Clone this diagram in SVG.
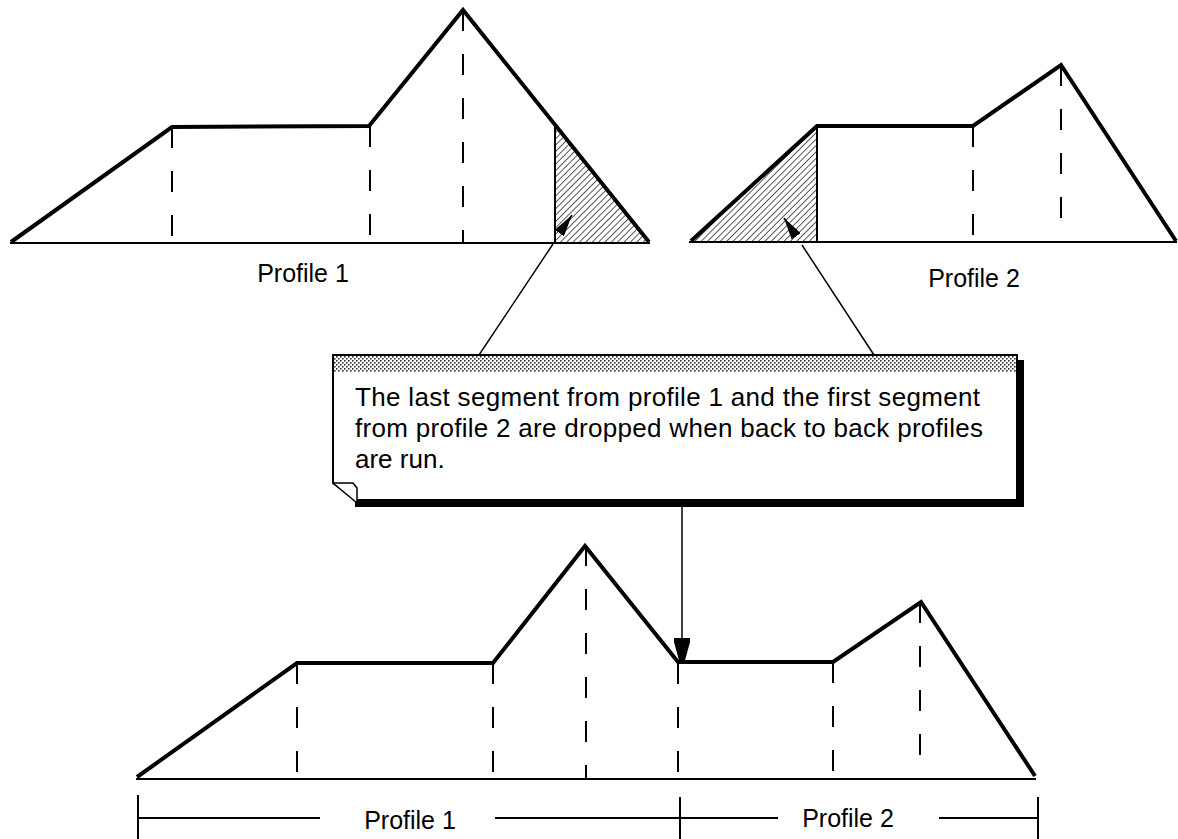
<svg xmlns="http://www.w3.org/2000/svg" width="1178" height="839" viewBox="0 0 1178 839">
<style>
.prof{fill:none;stroke:#000;stroke-width:4;stroke-linejoin:miter}
.base{stroke:#000;stroke-width:2;fill:none}
.dash{stroke:#000;stroke-width:2;stroke-dasharray:21 23;fill:none}
.thin{stroke:#000;stroke-width:2;fill:none}
.conn{stroke:#000;stroke-width:1.5;fill:none}
.lbl{font-family:"Liberation Sans",Arial,sans-serif;font-size:25px;fill:#000}
.note{font-family:"Liberation Sans",Arial,sans-serif;font-size:26px;fill:#000}
</style>
<defs>
<pattern id="hatch" width="4.5" height="4.5" patternUnits="userSpaceOnUse" patternTransform="rotate(45)">
<line x1="0" y1="0" x2="0" y2="4.5" stroke="#000" stroke-width="1.3"/>
</pattern>
<pattern id="dots" width="4" height="4" patternUnits="userSpaceOnUse">
<rect x="0" y="0" width="4" height="4" fill="#fff"/>
<rect x="0" y="0" width="1.6" height="1.6" fill="#333"/>
<rect x="2" y="2" width="1.6" height="1.6" fill="#333"/>
</pattern>
<marker id="ah" markerWidth="22" markerHeight="11" refX="22" refY="5.5" orient="auto" markerUnits="userSpaceOnUse">
<path d="M0,0 L22,5.5 L0,11 z" fill="#000"/>
</marker>
<marker id="ah2" markerWidth="26" markerHeight="16" refX="26" refY="8" orient="auto" markerUnits="userSpaceOnUse">
<path d="M0,0 L4,0 L26,6 L26,10 L4,16 L0,16 z" fill="#000"/>
</marker>
</defs>
<rect width="1178" height="839" fill="#fff"/>

<g id="profile1-top">
<polygon points="555,127 555,243 650,243" fill="url(#hatch)"/>
<line class="dash" x1="172" y1="127" x2="172" y2="243"/>
<line class="dash" x1="370" y1="126" x2="370" y2="243"/>
<line class="dash" x1="463" y1="10" x2="463" y2="243"/>
<line class="thin" x1="555" y1="127" x2="555" y2="243"/>
<line class="base" x1="10" y1="243" x2="650" y2="243"/>
<polyline class="prof" points="11,242 172,127 369,126 463,10 649,242"/>
<text class="lbl" x="303" y="282" text-anchor="middle">Profile 1</text>
</g>

<g id="profile2-top">
<polygon points="690,242 817,126 817,242" fill="url(#hatch)"/>
<line class="dash" x1="973" y1="126" x2="973" y2="242"/>
<line class="dash" x1="1061" y1="65" x2="1061" y2="242"/>
<line class="thin" x1="817" y1="126" x2="817" y2="242"/>
<line class="base" x1="689" y1="242" x2="1177" y2="242"/>
<polyline class="prof" points="691,241 817,126 973,126 1061,65 1176,241"/>
<text class="lbl" x="974" y="287" text-anchor="middle">Profile 2</text>
</g>

<g id="note">
<rect x="1017" y="360" width="7" height="147" fill="#000"/>
<rect x="355" y="500" width="669" height="7" fill="#000"/>
<path d="M333,355 L1017,355 L1017,500 L355,500 L333,483 Z" fill="#fff" stroke="#000" stroke-width="2"/>
<rect x="334" y="356" width="682" height="16" fill="url(#dots)"/>
<path d="M333,483 L353,483 L357,488 L357,503 Z" fill="#fff" stroke="#000" stroke-width="1.5" stroke-linejoin="round"/>
<text class="note" x="355" y="406" textLength="625" lengthAdjust="spacing">The last segment from profile 1 and the first segment</text>
<text class="note" x="355" y="437" textLength="628" lengthAdjust="spacing">from profile 2 are dropped when back to back profiles</text>
<text class="note" x="355" y="468">are run.</text>
</g>

<g id="profile-combined">
<line class="dash" x1="297" y1="663" x2="297" y2="779"/>
<line class="dash" x1="493" y1="663" x2="493" y2="779"/>
<line class="dash" x1="586" y1="545" x2="586" y2="779"/>
<line class="dash" x1="678" y1="663" x2="678" y2="779"/>
<line class="dash" x1="833" y1="662" x2="833" y2="779"/>
<line class="dash" x1="920" y1="602" x2="920" y2="779"/>
<line class="base" x1="136" y1="779" x2="1036" y2="779"/>
<polyline class="prof" points="137,777 297,663 493,663 585,546 678,662 833,662 921,602 1035,776"/>
</g>

<g id="dimension">
<line class="thin" x1="138" y1="795" x2="138" y2="839"/>
<line class="thin" x1="680" y1="797" x2="680" y2="839"/>
<line class="thin" x1="1038" y1="797" x2="1038" y2="839"/>
<line class="thin" x1="138" y1="818" x2="320" y2="818"/>
<line class="thin" x1="495" y1="818" x2="778" y2="818"/>
<line class="thin" x1="939" y1="818" x2="1038" y2="818"/>
<text class="lbl" x="410" y="829" text-anchor="middle">Profile 1</text>
<text class="lbl" x="848" y="827" text-anchor="middle">Profile 2</text>
</g>

<g id="connectors">
<path class="conn" d="M479,355 L553,244 M565,225 L572,215" marker-end="url(#ah)"/>
<path class="conn" d="M874,355 L802,245 M794,233 L784,218" marker-end="url(#ah)"/>
<path class="conn" d="M682,507 L682,664" marker-end="url(#ah2)"/>
</g>
</svg>
